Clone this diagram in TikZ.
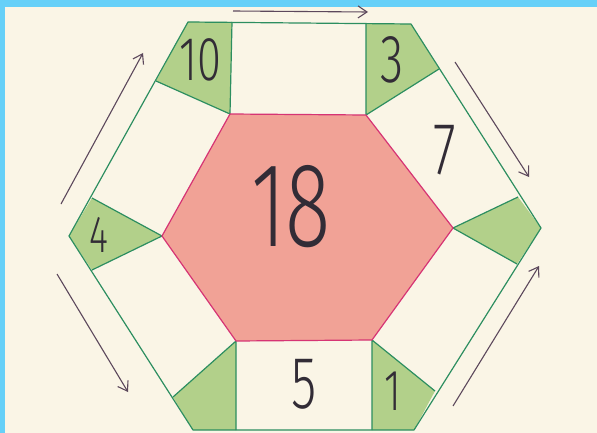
\documentclass[tikz,border=0pt]{standalone}
\usepackage{xcolor}
\usepackage{fontspec}
\usepackage{tikz}
\usetikzlibrary{arrows.meta,calc}
\newfontfamily\handfont{Fira Sans}[UprightFont={* Light}]
\definecolor{sky}{RGB}{102,208,248}
\definecolor{paper}{RGB}{250,245,230}
\definecolor{leaf}{RGB}{44,142,96}
\definecolor{leaffill}{RGB}{178,208,138}
\definecolor{rose}{RGB}{214,52,116}
\definecolor{rosefill}{RGB}{241,162,150}
\definecolor{ink}{RGB}{50,44,54}
\definecolor{pencil}{RGB}{92,72,92}

\begin{document}
\begin{tikzpicture}[
  x=1pt, y=-1pt,
  edge/.style={draw=leaf, line width=1.2pt, line join=round},
  corner/.style={fill=leaffill},
  core/.style={fill=rosefill, draw=rose, line width=1.2pt, line join=round},
  num/.style={font=\handfont\fontsize{#1}{#1}\selectfont, text=ink, inner sep=0pt, xscale=0.7},
  dir/.style={-{Straight Barb[length=9pt, width=12pt, line width=1.1pt]}, line width=1.1pt, pencil},
]
\useasboundingbox (0,0) rectangle (597,433);
\fill[sky] (0,0) rectangle (597,433);
\fill[paper] (5,7) rectangle (597,433);

% outer hexagon
\coordinate (o1) at (188,22);
\coordinate (o2) at (411,24);
\coordinate (o3) at (541,228);
\coordinate (o4) at (414,430);
\coordinate (o5) at (193,430);
\coordinate (o6) at (69,236);
% inner hexagon
\coordinate (r1) at (230,114);
\coordinate (r2) at (366,115);
\coordinate (r3) at (453,228);
\coordinate (r4) at (372,340);
\coordinate (r5) at (236,341);
\coordinate (r6) at (162,236);
% feet on the outer edges
\coordinate (f1a) at (232,22);  \coordinate (f1b) at (156,81);
\coordinate (f2a) at (366,24);  \coordinate (f2b) at (439,69);
\coordinate (f3a) at (518,197); \coordinate (f3b) at (517,264);
\coordinate (f4a) at (435,391); \coordinate (f4b) at (372,430);
\coordinate (f5a) at (236,430); \coordinate (f5b) at (173,397);
\coordinate (f6a) at (92,270);  \coordinate (f6b) at (92,198);

\fill[corner] (o1) -- (f1a) -- (r1) -- (f1b) -- cycle;
\fill[corner] (o2) -- (f2b) -- (r2) -- (f2a) -- cycle;
\fill[corner] (o3) -- (f3b) -- (r3) -- (f3a) -- cycle;
\fill[corner] (o4) -- (f4b) -- (r4) -- (f4a) -- cycle;
\fill[corner] (o5) -- (f5b) -- (r5) -- (f5a) -- cycle;
\fill[corner] (o6) -- (f6b) -- (r6) -- (f6a) -- cycle;

\draw[edge] (o1) -- (o2) -- (o3) -- (o4) -- (o5) -- (o6) -- cycle;
\draw[edge] (f1a) -- (r1) -- (f1b);
\draw[edge] (f2a) -- (r2) -- (f2b);
\draw[edge] (f3a) -- (r3) -- (f3b);
\draw[edge] (f4a) -- (r4) -- (f4b);
\draw[edge] (f5a) -- (r5) -- (f5b);
\draw[edge] (f6a) -- (r6) -- (f6b);
\draw[core] (r1) -- (r2) -- (r3) -- (r4) -- (r5) -- (r6) -- cycle;

\node[num=120] (centre) at (291,207) {18};
\node[num=62] (n10) at (200,60) {10};
\node[num=68] (n3) at (392,60) {3};
\node[num=74] (n7) at (445,150) {7};
\node[num=52] (n4) at (99,235) {4};
\node[num=74] (n5) at (304,384) {5};
\node[num=58] (n1) at (393,391) {1};

% direction arrows
\coordinate (a1s) at (233,11);  \coordinate (a1e) at (368,12);
\coordinate (a2s) at (455,62);  \coordinate (a2e) at (529,177);
\coordinate (a3s) at (453,406); \coordinate (a3e) at (539,266);
\coordinate (a4s) at (57,274);  \coordinate (a4e) at (128,392);
\coordinate (a5s) at (61,204);  \coordinate (a5e) at (143,53);
\draw[dir] (a1s) -- (a1e);
\draw[dir] (a2s) -- (a2e);
\draw[dir] (a3s) -- (a3e);
\draw[dir] (a4s) -- (a4e);
\draw[dir] (a5s) -- (a5e);

\end{tikzpicture}
\end{document}
